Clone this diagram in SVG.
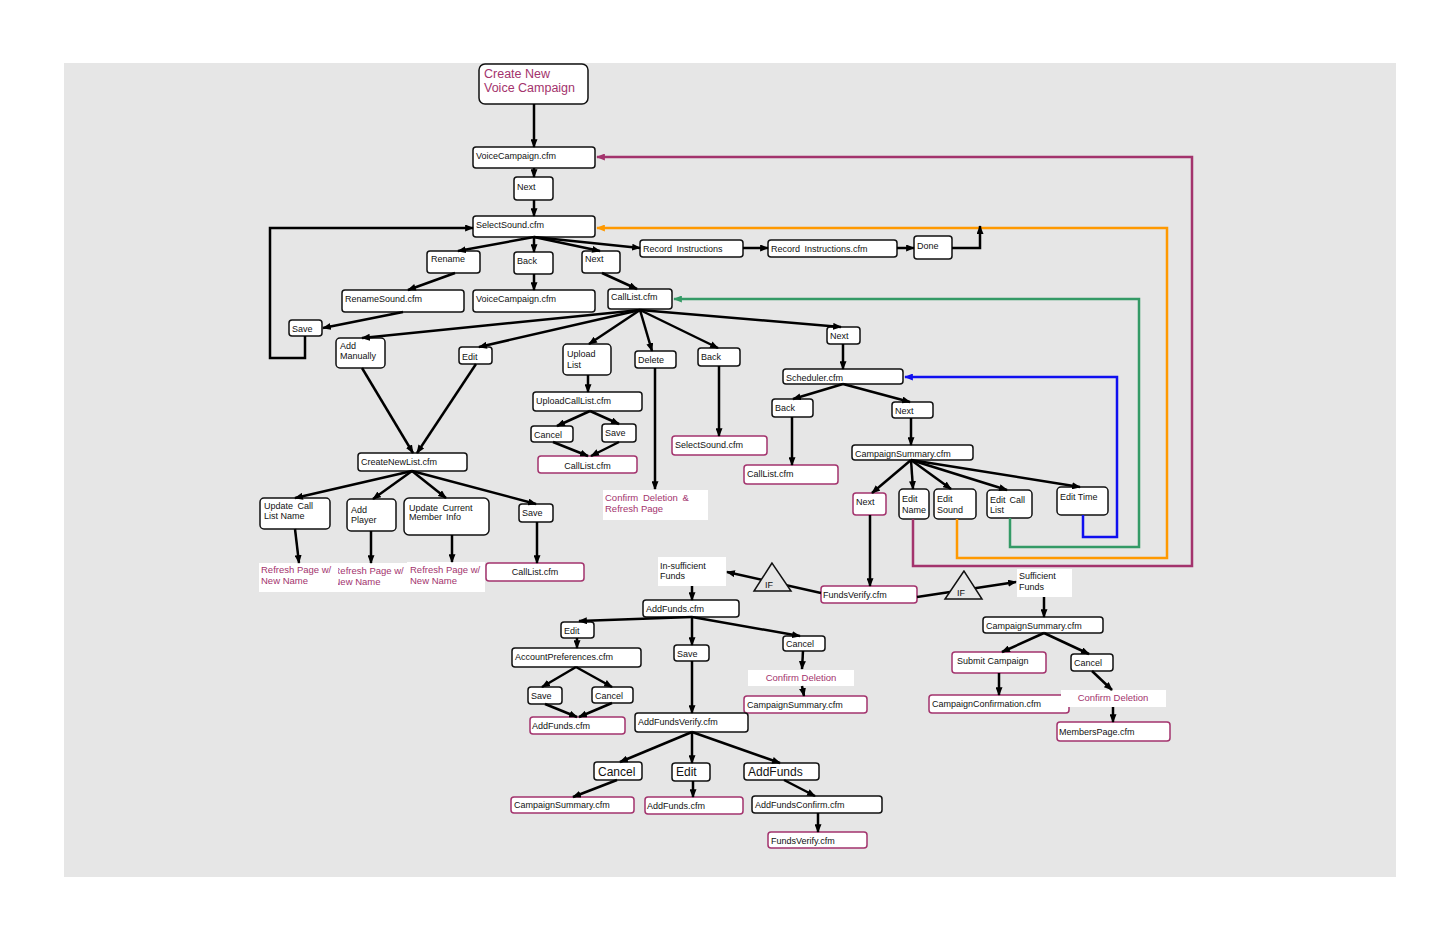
<svg xmlns="http://www.w3.org/2000/svg" width="1456" height="936" viewBox="0 0 1456 936">
<style>
.n{fill:#fff;stroke:#111;stroke-width:1.5}
.m{fill:#fff;stroke:#a3336d;stroke-width:1.5}
.w{fill:#fff}
.tri{fill:#e6e6e6;stroke:#111;stroke-width:1.5}
text{font-family:"Liberation Sans",Arial,sans-serif;font-size:9px;fill:#111}
.mt{fill:#a3336d}
.f12{font-size:12.5px}
.f95{font-size:9.5px}
.big{font-size:12px}
.ctr{text-anchor:middle}
.c{fill:none;stroke:#000;stroke-width:2.5;marker-end:url(#a)}
.cm{fill:none;stroke:#a3336d;stroke-width:2.5;marker-end:url(#am)}
.co{fill:none;stroke:#ff9900;stroke-width:2.5;marker-end:url(#ao)}
.cg{fill:none;stroke:#349a66;stroke-width:2.5;marker-end:url(#ag)}
.cb{fill:none;stroke:#1010f0;stroke-width:2.5;marker-end:url(#ab)}
</style>
<defs>
<marker id="a" viewBox="0 0 10 8" refX="9" refY="4" markerWidth="9" markerHeight="7" markerUnits="userSpaceOnUse" orient="auto"><path d="M0,0 L10,4 L0,8 z" fill="#000"/></marker>
<marker id="am" viewBox="0 0 10 8" refX="9" refY="4" markerWidth="9" markerHeight="7" markerUnits="userSpaceOnUse" orient="auto"><path d="M0,0 L10,4 L0,8 z" fill="#a3336d"/></marker>
<marker id="ao" viewBox="0 0 10 8" refX="9" refY="4" markerWidth="9" markerHeight="7" markerUnits="userSpaceOnUse" orient="auto"><path d="M0,0 L10,4 L0,8 z" fill="#ff9900"/></marker>
<marker id="ag" viewBox="0 0 10 8" refX="9" refY="4" markerWidth="9" markerHeight="7" markerUnits="userSpaceOnUse" orient="auto"><path d="M0,0 L10,4 L0,8 z" fill="#349a66"/></marker>
<marker id="ab" viewBox="0 0 10 8" refX="9" refY="4" markerWidth="9" markerHeight="7" markerUnits="userSpaceOnUse" orient="auto"><path d="M0,0 L10,4 L0,8 z" fill="#1010f0"/></marker>
<clipPath id="clipRef2"><rect x="338" y="560" width="70" height="34"/></clipPath>
</defs>
<rect x="0" y="0" width="1456" height="936" fill="#fff"/>
<rect x="64" y="63" width="1332" height="814" fill="#e6e6e6"/>

<g id="nodes">
<g id="n_create"><rect class="n" x="479" y="64" width="109" height="40" rx="6"/><text class="mt f12" x="484" y="78">Create New</text><text class="mt f12" x="484" y="92">Voice Campaign</text></g>
<g id="n_vc1"><rect class="n" x="473" y="147" width="122" height="21" rx="3"/><text x="476" y="159">VoiceCampaign.cfm</text></g>
<g id="n_next1"><rect class="n" x="514" y="177" width="39" height="23" rx="3"/><text x="517" y="190">Next</text></g>
<g id="n_ss1"><rect class="n" x="473" y="216" width="122" height="21" rx="3"/><text x="476" y="228">SelectSound.cfm</text></g>
<g id="n_rename"><rect class="n" x="427" y="251" width="53" height="22" rx="3"/><text x="431" y="262">Rename</text></g>
<g id="n_back1"><rect class="n" x="514" y="252" width="39" height="22" rx="3"/><text x="517" y="264">Back</text></g>
<g id="n_next2"><rect class="n" x="582" y="251" width="38" height="22" rx="3"/><text x="585" y="262">Next</text></g>
<g id="n_recinst"><rect class="n" x="640" y="240" width="103" height="17" rx="3"/><text x="643" y="252" word-spacing="2">Record Instructions</text></g>
<g id="n_recinstcfm"><rect class="n" x="768" y="240" width="129" height="17" rx="3"/><text x="771" y="252" word-spacing="2">Record Instructions.cfm</text></g>
<g id="n_done"><rect class="n" x="914" y="236" width="38" height="23" rx="3"/><text x="917" y="249">Done</text></g>
<g id="n_renamecfm"><rect class="n" x="342" y="290" width="122" height="22" rx="3"/><text x="345" y="302">RenameSound.cfm</text></g>
<g id="n_vc2"><rect class="n" x="473" y="290" width="122" height="22" rx="3"/><text x="476" y="302">VoiceCampaign.cfm</text></g>
<g id="n_calllist"><rect class="n" x="608" y="289" width="64" height="20" rx="3"/><text x="611" y="300">CallList.cfm</text></g>
<g id="n_save1"><rect class="n" x="289" y="320" width="33" height="16" rx="3"/><text x="292" y="332">Save</text></g>
<g id="n_addman"><rect class="n" x="336" y="338" width="49" height="30" rx="4"/><text x="340" y="349">Add</text><text x="340" y="359">Manually</text></g>
<g id="n_edit1"><rect class="n" x="459" y="347" width="33" height="17" rx="3"/><text x="462" y="360">Edit</text></g>
<g id="n_upload"><rect class="n" x="563" y="344" width="48" height="31" rx="4"/><text x="567" y="357">Upload</text><text x="567" y="368">List</text></g>
<g id="n_delete"><rect class="n" x="635" y="351" width="41" height="17" rx="3"/><text x="638" y="363">Delete</text></g>
<g id="n_back2"><rect class="n" x="698" y="348" width="42" height="18" rx="3"/><text x="701" y="360">Back</text></g>
<g id="n_next3"><rect class="n" x="827" y="327" width="33" height="17" rx="3"/><text x="830" y="339">Next</text></g>
<g id="n_uploadcfm"><rect class="n" x="533" y="392" width="109" height="19" rx="3"/><text x="536" y="404">UploadCallList.cfm</text></g>
<g id="n_cancel1"><rect class="n" x="531" y="426" width="42" height="16" rx="3"/><text x="534" y="438">Cancel</text></g>
<g id="n_save2"><rect class="n" x="602" y="424" width="34" height="18" rx="3"/><text x="605" y="436">Save</text></g>
<g id="n_calllist2"><rect class="m" x="538" y="456" width="99" height="17" rx="3"/><text class="ctr" x="587.5" y="469">CallList.cfm</text></g>
<g id="n_confdel1"><rect class="w" x="603" y="490" width="105" height="30"/><text class="mt f95" x="605" y="501" word-spacing="2">Confirm Deletion &amp;</text><text class="mt f95" x="605" y="512">Refresh Page</text></g>
<g id="n_sscfm2"><rect class="m" x="672" y="436" width="95" height="19" rx="3"/><text x="675" y="448">SelectSound.cfm</text></g>
<g id="n_sched"><rect class="n" x="783" y="369" width="120" height="15" rx="3"/><text x="786" y="381">Scheduler.cfm</text></g>
<g id="n_back3"><rect class="n" x="772" y="399" width="41" height="18" rx="3"/><text x="775" y="411">Back</text></g>
<g id="n_next5"><rect class="n" x="892" y="402" width="41" height="16" rx="3"/><text x="895" y="414">Next</text></g>
<g id="n_calllist3"><rect class="m" x="744" y="465" width="94" height="19" rx="3"/><text x="747" y="477">CallList.cfm</text></g>
<g id="n_campsum1"><rect class="n" x="852" y="445" width="121" height="15" rx="3"/><text x="855" y="457">CampaignSummary.cfm</text></g>
<g id="n_next6"><rect class="m" x="853" y="493" width="33" height="22" rx="3"/><text x="856" y="505">Next</text></g>
<g id="n_editname"><rect class="n" x="899" y="489" width="30" height="30" rx="4"/><text x="902" y="502">Edit</text><text x="902" y="513">Name</text></g>
<g id="n_editsound"><rect class="n" x="934" y="489" width="42" height="30" rx="4"/><text x="937" y="502">Edit</text><text x="937" y="513">Sound</text></g>
<g id="n_editcall"><rect class="n" x="987" y="490" width="45" height="28" rx="4"/><text x="990" y="503" word-spacing="1.5">Edit Call</text><text x="990" y="513">List</text></g>
<g id="n_edittime"><rect class="n" x="1057" y="487" width="51" height="28" rx="4"/><text x="1060" y="500">Edit Time</text></g>
<g id="n_createnew"><rect class="n" x="358" y="453" width="109" height="18" rx="3"/><text x="361" y="465">CreateNewList.cfm</text></g>
<g id="n_updcall"><rect class="n" x="260" y="498" width="70" height="31" rx="4"/><text x="264" y="509" word-spacing="2">Update Call</text><text x="264" y="519">List Name</text></g>
<g id="n_addplayer"><rect class="n" x="347" y="499" width="49" height="32" rx="4"/><text x="351" y="513">Add</text><text x="351" y="523">Player</text></g>
<g id="n_updcur"><rect class="n" x="404" y="498" width="85" height="37" rx="5"/><text x="409" y="511" word-spacing="2">Update Current</text><text x="409" y="520" word-spacing="1.5">Member Info</text></g>
<g id="n_save3"><rect class="n" x="519" y="504" width="34" height="18" rx="3"/><text x="522" y="516">Save</text></g>
<g id="n_ref1"><rect class="w" x="259" y="563" width="79" height="29"/><text class="mt f95" x="261" y="573">Refresh Page w/</text><text class="mt f95" x="261" y="584">New Name</text></g>
<g id="n_ref2"><rect class="w" x="338" y="563" width="70" height="29"/><g clip-path="url(#clipRef2)"><text class="mt f95" x="333.5" y="574">Refresh Page w/</text><text class="mt f95" x="333.5" y="585">New Name</text></g></g>
<g id="n_ref3"><rect class="w" x="407" y="562" width="78" height="30"/><text class="mt f95" x="410" y="573">Refresh Page w/</text><text class="mt f95" x="410" y="584">New Name</text></g>
<g id="n_calllist4"><rect class="m" x="486" y="563" width="98" height="18" rx="3"/><text class="ctr" x="535" y="575">CallList.cfm</text></g>
<g id="n_insuf"><rect class="w" x="658" y="557" width="68" height="29"/><text x="660" y="569">In-sufficient</text><text x="660" y="579">Funds</text></g>
<g id="n_fv1"><rect class="m" x="821" y="586" width="96" height="17" rx="3"/><text x="823" y="598">FundsVerify.cfm</text></g>
<g id="n_suf"><rect class="w" x="1017" y="569" width="55" height="28"/><text x="1019" y="579">Sufficient</text><text x="1019" y="590">Funds</text></g>
<g id="n_campsum2"><rect class="n" x="983" y="617" width="120" height="16" rx="3"/><text x="986" y="629">CampaignSummary.cfm</text></g>
<g id="n_submit"><rect class="m" x="952" y="652" width="94" height="21" rx="3"/><text x="957" y="664">Submit Campaign</text></g>
<g id="n_cancel2"><rect class="n" x="1071" y="654" width="42" height="17" rx="3"/><text x="1074" y="666">Cancel</text></g>
<g id="n_campconf"><rect class="m" x="929" y="695" width="140" height="18" rx="3"/><text x="932" y="707">CampaignConfirmation.cfm</text></g>
<g id="n_confdel3"><rect class="w" x="1061" y="690" width="105" height="17"/><text class="mt ctr f95" x="1113" y="701">Confirm Deletion</text></g>
<g id="n_members"><rect class="m" x="1057" y="722" width="113" height="19" rx="3"/><text x="1059" y="735">MembersPage.cfm</text></g>
<g id="n_addfunds1"><rect class="n" x="643" y="600" width="96" height="17" rx="3"/><text x="646" y="612">AddFunds.cfm</text></g>
<g id="n_edit2"><rect class="n" x="561" y="622" width="33" height="16" rx="3"/><text x="564" y="634">Edit</text></g>
<g id="n_save4"><rect class="n" x="674" y="645" width="35" height="16" rx="3"/><text x="677" y="657">Save</text></g>
<g id="n_cancel3"><rect class="n" x="783" y="636" width="42" height="15" rx="3"/><text x="786" y="647">Cancel</text></g>
<g id="n_acctpref"><rect class="n" x="512" y="648" width="129" height="19" rx="3"/><text x="515" y="660">AccountPreferences.cfm</text></g>
<g id="n_save5"><rect class="n" x="528" y="687" width="34" height="17" rx="3"/><text x="531" y="699">Save</text></g>
<g id="n_cancel4"><rect class="n" x="592" y="687" width="41" height="16" rx="3"/><text x="595" y="699">Cancel</text></g>
<g id="n_addfunds2"><rect class="m" x="530" y="717" width="95" height="17" rx="3"/><text x="532" y="729">AddFunds.cfm</text></g>
<g id="n_confdel2"><rect class="w" x="748" y="670" width="106" height="16"/><text class="mt ctr f95" x="801" y="681">Confirm Deletion</text></g>
<g id="n_campsum3"><rect class="m" x="744" y="696" width="123" height="17" rx="3"/><text x="747" y="708">CampaignSummary.cfm</text></g>
<g id="n_afverify"><rect class="n" x="635" y="713" width="113" height="19" rx="3"/><text x="638" y="725">AddFundsVerify.cfm</text></g>
<g id="n_cancel5"><rect class="n" x="594" y="762" width="48" height="18" rx="3"/><text class="big" x="598" y="776">Cancel</text></g>
<g id="n_edit3"><rect class="n" x="672" y="763" width="38" height="18" rx="3"/><text class="big" x="676" y="776">Edit</text></g>
<g id="n_addfunds3"><rect class="n" x="744" y="763" width="75" height="17" rx="3"/><text class="big" x="748" y="776">AddFunds</text></g>
<g id="n_campsum4"><rect class="m" x="511" y="797" width="123" height="16" rx="3"/><text x="514" y="808">CampaignSummary.cfm</text></g>
<g id="n_addfunds4"><rect class="m" x="645" y="797" width="98" height="17" rx="3"/><text x="647" y="809">AddFunds.cfm</text></g>
<g id="n_afconfirm"><rect class="n" x="752" y="796" width="130" height="17" rx="3"/><text x="755" y="808">AddFundsConfirm.cfm</text></g>
<g id="n_fv2"><rect class="m" x="768" y="832" width="99" height="16" rx="3"/><text x="771" y="844">FundsVerify.cfm</text></g>
</g>

<g id="connectors">
<path class="cm" d="M913,519 V566 H1192 V157 H597"/>
<path class="co" d="M957,519 V558 H1167 V228 H597"/>
<path class="cg" d="M1010,518 V547 H1139 V299 H674"/>
<path class="cb" d="M1083,515 V537 H1117 V377 H905"/>
<path class="c" d="M534,104 V147"/>
<path class="c" d="M534,168 V177"/>
<path class="c" d="M534,200 V216"/>
<path class="c" d="M534,237 L458,251"/>
<path class="c" d="M534,237 V252"/>
<path class="c" d="M534,237 L600,251"/>
<path class="c" d="M534,237 L640,248"/>
<path class="c" d="M743,248 H768"/>
<path class="c" d="M897,248 H914"/>
<path class="c" d="M952,248 H980 V226"/>
<path class="c" d="M455,273 L408,290"/>
<path class="c" d="M534,274 V290"/>
<path class="c" d="M602,273 L637,289"/>
<path class="c" d="M403,312 L323,328"/>
<path class="c" d="M305,336 V358 H270 V228 H473"/>
<path class="c" d="M640,310 L362,338"/>
<path class="c" d="M640,310 L479,347"/>
<path class="c" d="M640,310 L589,344"/>
<path class="c" d="M640,310 L652,351"/>
<path class="c" d="M640,310 L718,348"/>
<path class="c" d="M640,310 L841,327"/>
<path class="c" d="M362,368 L413,453"/>
<path class="c" d="M476,364 L417,453"/>
<path class="c" d="M588,375 V392"/>
<path class="c" d="M590,411 L557,426"/>
<path class="c" d="M590,411 L619,424"/>
<path class="c" d="M553,442 L588,456"/>
<path class="c" d="M619,442 L591,456"/>
<path class="c" d="M655,368 V489"/>
<path class="c" d="M719,366 V436"/>
<path class="c" d="M843,344 V369"/>
<path class="c" d="M843,384 L793,399"/>
<path class="c" d="M843,384 L910,402"/>
<path class="c" d="M792,417 V465"/>
<path class="c" d="M911,418 V445"/>
<path class="c" d="M911,460 L872,493"/>
<path class="c" d="M911,460 L913,489"/>
<path class="c" d="M911,460 L951,489"/>
<path class="c" d="M911,460 L1007,490"/>
<path class="c" d="M911,460 L1080,487"/>
<path class="c" d="M870,515 V586"/>
<path class="c" d="M412,471 L295,498"/>
<path class="c" d="M412,471 L373,499"/>
<path class="c" d="M412,471 L446,498"/>
<path class="c" d="M412,471 L536,504"/>
<path class="c" d="M295,529 L299,563"/>
<path class="c" d="M371,531 V563"/>
<path class="c" d="M452,535 V562"/>
<path class="c" d="M537,522 V563"/>
<path class="c" d="M821,593 L727,572"/>
<path class="c" d="M917,597 L1016,582"/>
<path class="c" d="M692,586 V600"/>
<path class="c" d="M692,617 L579,621"/>
<path class="c" d="M692,617 V645"/>
<path class="c" d="M692,617 L800,636"/>
<path class="c" d="M577,638 V648"/>
<path class="c" d="M576,667 L542,687"/>
<path class="c" d="M576,667 L612,687"/>
<path class="c" d="M545,704 L577,717"/>
<path class="c" d="M612,703 L579,717"/>
<path class="c" d="M803,651 L802,669"/>
<path class="c" d="M802,686 L804,696"/>
<path class="c" d="M692,661 V713"/>
<path class="c" d="M692,732 L620,762"/>
<path class="c" d="M692,732 V763"/>
<path class="c" d="M692,732 L780,763"/>
<path class="c" d="M617,780 L573,797"/>
<path class="c" d="M693,781 V797"/>
<path class="c" d="M784,780 L815,796"/>
<path class="c" d="M818,813 V832"/>
<path class="c" d="M1044,597 V617"/>
<path class="c" d="M1044,633 L1002,652"/>
<path class="c" d="M1044,633 L1089,654"/>
<path class="c" d="M999,673 V695"/>
<path class="c" d="M1092,671 L1112,690"/>
<path class="c" d="M1113,707 V722"/>
</g>

<g id="n_if1"><polygon class="tri" points="772,563 754,591 791,591"/><text x="765" y="588">IF</text></g>
<g id="n_if2"><polygon class="tri" points="964,571 945,599 982,599"/><text x="957" y="596">IF</text></g>
</svg>
